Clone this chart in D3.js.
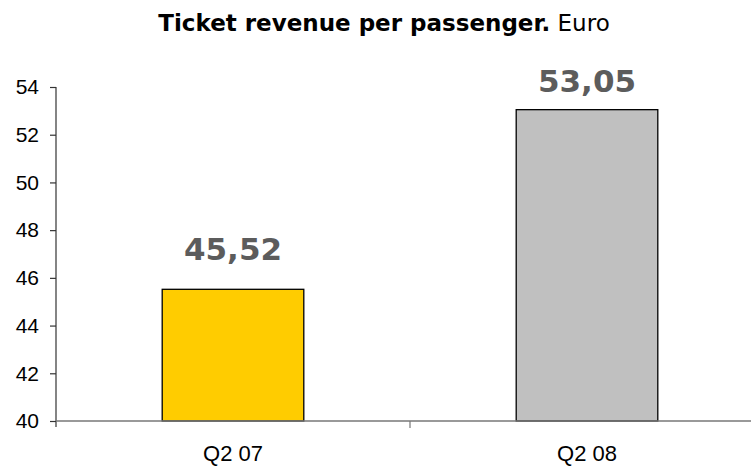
<!DOCTYPE html>
<html>
<head>
<meta charset="utf-8">
<script src="https://cdn.jsdelivr.net/npm/d3@7"></script>
<style>
  html, body { margin: 0; padding: 0; background: #fff; }
  svg { display: block; }
</style>
</head>
<body>
<div id="chart"></div>
<script>
// Ticket revenue per passenger, in euro, by quarter
const categories = ["Q2 07", "Q2 08"];
const values = [45.52, 53.05];
const valueLabels = ["45,52", "53,05"];
const barColors = ["#FFCC00", "#C0C0C0"];
const yTicks = [40, 42, 44, 46, 48, 50, 52, 54];

const W = 751, H = 467;
const svg = d3.select("#chart").append("svg")
  .attr("width", W).attr("height", H);

const plot = { left: 56, right: 764, top: 87, bottom: 421 };

const x = d3.scaleBand()
  .domain(categories)
  .range([plot.left, plot.right])
  .paddingInner(0.6)
  .paddingOuter(0.3);

const y = d3.scaleLinear()
  .domain([40, 54])
  .range([plot.bottom, plot.top]);

// Title: bold heading followed by the unit
const title = svg.append("text")
  .attr("x", 384)
  .attr("y", 31)
  .attr("text-anchor", "middle")
  .style("font-family", "'DejaVu Sans', Verdana, sans-serif")
  .style("font-size", "23px")
  .attr("fill", "#000");
title.append("tspan").style("font-weight", "bold").text("Ticket revenue per passenger.");
title.append("tspan").text(" Euro");

// Bars
svg.append("g").selectAll("rect")
  .data(categories)
  .join("rect")
  .attr("x", d => x(d))
  .attr("y", (d, i) => y(values[i]))
  .attr("width", x.bandwidth())
  .attr("height", (d, i) => y(40) - y(values[i]))
  .attr("fill", (d, i) => barColors[i])
  .attr("stroke", "#000")
  .attr("stroke-width", 1.3);

// Y axis
const yAxis = svg.append("g")
  .attr("transform", `translate(${plot.left},0)`)
  .call(d3.axisLeft(y).tickValues(yTicks).tickSize(6).tickPadding(11).tickFormat(d3.format("d")));
yAxis.select(".domain").attr("stroke", "#333").attr("stroke-width", 1.2)
  .attr("d", `M0,${plot.top}V${plot.bottom + 6}`);
yAxis.selectAll(".tick line").attr("stroke", "#333").attr("stroke-width", 1.2);
yAxis.selectAll(".tick text")
  .style("font-family", "'Liberation Sans', Arial, sans-serif")
  .style("font-size", "21px")
  .attr("fill", "#000");

// X axis: baseline with tick marks between categories
const xAxisG = svg.append("g");
xAxisG.append("line")
  .attr("x1", plot.left).attr("x2", plot.right)
  .attr("y1", plot.bottom).attr("y2", plot.bottom)
  .attr("stroke", "#777").attr("stroke-width", 1.3);
const boundaries = categories.slice(1).map(c => x(c) - x.step() * x.paddingInner() / 2);
xAxisG.selectAll("line.sep")
  .data(boundaries)
  .join("line")
  .attr("class", "sep")
  .attr("x1", d => d).attr("x2", d => d)
  .attr("y1", plot.bottom).attr("y2", plot.bottom + 7)
  .attr("stroke", "#777").attr("stroke-width", 1.2);
xAxisG.selectAll("text")
  .data(categories)
  .join("text")
  .attr("x", d => x(d) + x.bandwidth() / 2)
  .attr("y", 461)
  .attr("text-anchor", "middle")
  .style("font-family", "'Liberation Sans', Arial, sans-serif")
  .style("font-size", "22px")
  .attr("fill", "#000")
  .text(d => d);

// Value labels above bars, kept inside the plot area
svg.append("g").selectAll("text")
  .data(categories)
  .join("text")
  .attr("x", d => x(d) + x.bandwidth() / 2)
  .attr("y", (d, i) => Math.max(y(values[i]) - 29, plot.top + 5))
  .attr("text-anchor", "middle")
  .style("font-family", "'DejaVu Sans', Verdana, sans-serif")
  .style("font-weight", "bold")
  .style("font-size", "31px")
  .attr("fill", "#5c5c5c")
  .text((d, i) => valueLabels[i]);
</script>
</body>
</html>
